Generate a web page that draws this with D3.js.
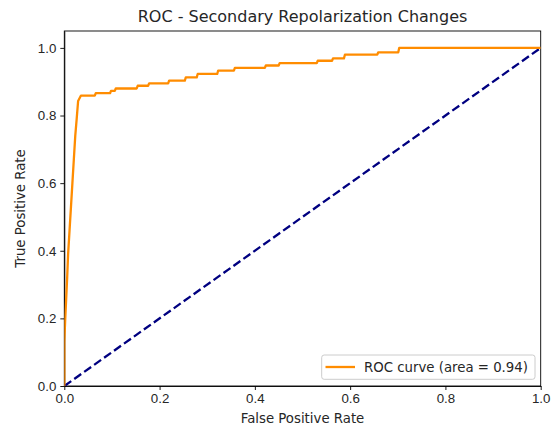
<!DOCTYPE html>
<html>
<head>
<meta charset="utf-8">
<script src="https://cdn.jsdelivr.net/npm/d3@7"></script>
<style>
  body { margin: 0; background: #fff; }
  svg { display: block; font-family: "DejaVu Sans", sans-serif; }
  .axis path, .axis line { stroke: #000; stroke-width: 0.9px; }
  .axis text { fill: #262626; font-size: 13.3px; }
</style>
</head>
<body>
<svg width="551" height="428"></svg>
<script>
// ROC curve corner points
var fpr = [0, 0, 0.002, 0.004, 0.006, 0.008, 0.011, 0.014, 0.017, 0.020, 0.023, 0.026, 0.029, 0.035,
           0.064, 0.066, 0.096, 0.098, 0.106, 0.108, 0.152, 0.154, 0.176, 0.178, 0.218, 0.220,
           0.253, 0.255, 0.278, 0.280, 0.321, 0.323, 0.356, 0.358, 0.421, 0.423, 0.450, 0.452,
           0.530, 0.532, 0.562, 0.564, 0.587, 0.589, 0.657, 0.659, 0.701, 0.703, 1.0];
var tpr = [0, 0.13, 0.20, 0.26, 0.32, 0.39, 0.46, 0.53, 0.60, 0.67, 0.74, 0.79, 0.843, 0.859,
           0.859, 0.866, 0.866, 0.873, 0.873, 0.880, 0.880, 0.888, 0.888, 0.895, 0.895, 0.903,
           0.903, 0.913, 0.913, 0.923, 0.923, 0.933, 0.933, 0.941, 0.941, 0.948, 0.948, 0.955,
           0.955, 0.962, 0.962, 0.969, 0.969, 0.980, 0.980, 0.987, 0.987, 1.0, 1.0];
var chance = [0, 1];
var rocArea = 0.94;
var xTicks = [0, 0.2, 0.4, 0.6, 0.8, 1.0],
    yTicks = [0, 0.2, 0.4, 0.6, 0.8, 1.0];

var svg = d3.select("svg"),
    pLeft = 64.3, pRight = 540.7, pTop = 31, pBottom = 386;

var xScale = d3.scaleLinear().domain([0, 1]).range([pLeft, pRight]),
    yScale = d3.scaleLinear().domain([0, 1.05]).range([pBottom, pTop]);

// title
svg.append("text")
   .attr("x", (pLeft + pRight) / 2)
   .attr("y", 22)
   .attr("text-anchor", "middle")
   .attr("fill", "#262626")
   .style("font-size", "16px")
   .text("ROC - Secondary Repolarization Changes");

// axes
svg.append("g")
   .attr("class", "axis")
   .attr("transform", "translate(0," + pBottom + ")")
   .call(d3.axisBottom(xScale).tickValues(xTicks).tickFormat(d3.format(".1f"))
         .tickSizeInner(4).tickSizeOuter(0).tickPadding(4));

svg.append("g")
   .attr("class", "axis")
   .attr("transform", "translate(" + pLeft + ",0)")
   .call(d3.axisLeft(yScale).tickValues(yTicks).tickFormat(d3.format(".1f"))
         .tickSizeInner(4).tickSizeOuter(0).tickPadding(4));

// frame (top & right spines)
svg.append("rect")
   .attr("x", pLeft).attr("y", pTop)
   .attr("width", pRight - pLeft).attr("height", pBottom - pTop)
   .attr("fill", "none").attr("stroke", "#000").attr("stroke-width", 0.9);

// axis labels
svg.append("text")
   .attr("x", (pLeft + pRight) / 2)
   .attr("y", 423)
   .attr("text-anchor", "middle")
   .attr("fill", "#262626")
   .style("font-size", "13.3px")
   .text("False Positive Rate");

svg.append("text")
   .attr("transform", "translate(25," + (pTop + pBottom) / 2 + ") rotate(-90)")
   .attr("text-anchor", "middle")
   .attr("fill", "#262626")
   .style("font-size", "13.3px")
   .text("True Positive Rate");

// clip to plot area
svg.append("clipPath").attr("id", "clip")
   .append("rect").attr("x", pLeft).attr("y", pTop)
   .attr("width", pRight - pLeft).attr("height", pBottom - pTop);

var plot = svg.append("g").attr("clip-path", "url(#clip)");

var line = d3.line().x(function(d) { return xScale(d[0]); }).y(function(d) { return yScale(d[1]); });

// chance diagonal
plot.append("path")
    .datum(chance.map(function(d) { return [d, d]; }))
    .attr("d", line)
    .attr("fill", "none")
    .attr("stroke", "#000080")
    .attr("stroke-width", 2.3)
    .attr("stroke-dasharray", "8.5,3.7");

// ROC curve
plot.append("path")
    .datum(fpr.map(function(d, i) { return [d, tpr[i]]; }))
    .attr("d", line)
    .attr("fill", "none")
    .attr("stroke", "#ff8c00")
    .attr("stroke-width", 2.3)
    .attr("stroke-linejoin", "round");

// legend
var lg = svg.append("g");
lg.append("rect")
  .attr("x", 321.7).attr("y", 355)
  .attr("width", 535 - 321.7).attr("height", 24.3)
  .attr("rx", 2.5)
  .attr("fill", "rgba(255,255,255,0.8)")
  .attr("stroke", "#cccccc").attr("stroke-width", 1);
lg.append("line")
  .attr("x1", 325.5).attr("x2", 355).attr("y1", 367).attr("y2", 367)
  .attr("stroke", "#ff8c00").attr("stroke-width", 2.3);
lg.append("text")
  .attr("x", 364).attr("y", 371.8)
  .attr("fill", "#262626")
  .style("font-size", "13.3px")
  .text("ROC curve (area = " + rocArea.toFixed(2) + ")");
</script>
</body>
</html>
